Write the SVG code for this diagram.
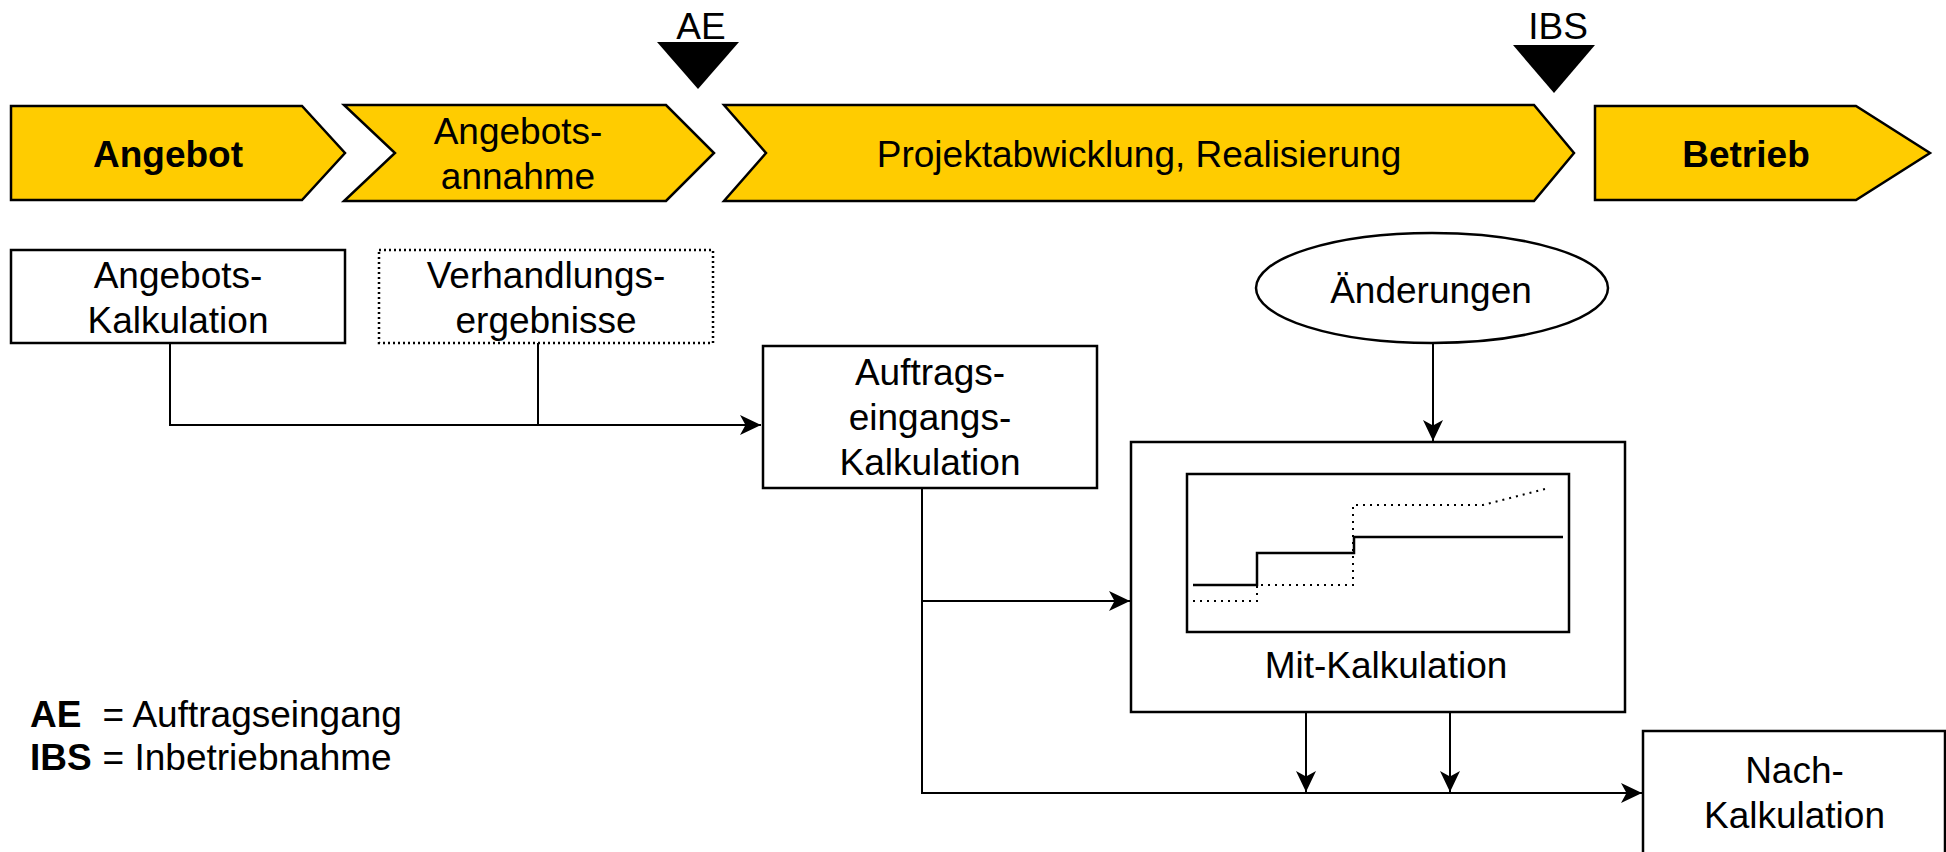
<svg xmlns="http://www.w3.org/2000/svg" width="1946" height="852" viewBox="0 0 1946 852">
  <style>
    text { font-family: "Liberation Sans", Arial, sans-serif; font-size: 37px; fill: #000; }
    .c { text-anchor: middle; }
    .b { font-weight: bold; }
    .phase { fill: #FFCC00; stroke: #000; stroke-width: 2.5; stroke-linejoin: miter; }
    .box { fill: #fff; stroke: #000; stroke-width: 2.5; }
    .dotted { fill: #fff; stroke: #000; stroke-width: 2.5; stroke-dasharray: 2 3; }
    .milestone { fill: #000; stroke: none; }
    .conn { fill: none; stroke: #000; stroke-width: 2; }
    .curve { fill: none; stroke: #000; stroke-width: 2.5; }
    .curve-dot { fill: none; stroke: #000; stroke-width: 2; stroke-dasharray: 2 5; }
  </style>
  <defs>
    <marker id="arrow" viewBox="-22 -11 23 22" refX="0" refY="0" markerWidth="23" markerHeight="22" markerUnits="userSpaceOnUse" orient="auto">
      <path d="M0,0 L-21,-10 L-15.5,0 L-21,10 Z" fill="#000"/>
    </marker>
  </defs>

  <rect width="1946" height="852" fill="#fff"/>

  <!-- phase chevrons -->
  <g id="phase-angebot">
    <polygon class="phase" points="11,106 302,106 345,153 302,200 11,200"/>
    <text class="c b" x="168" y="166.5">Angebot</text>
  </g>
  <g id="phase-annahme">
    <polygon class="phase" points="344,105 666,105 714,153 666,201 344,201 395,153"/>
    <text class="c" x="518" y="144">Angebots-</text>
    <text class="c" x="518" y="189">annahme</text>
  </g>
  <g id="phase-projekt">
    <polygon class="phase" points="724,105 1534,105 1574,153 1534,201 724,201 766,153"/>
    <text class="c" x="1139" y="167">Projektabwicklung, Realisierung</text>
  </g>
  <g id="phase-betrieb">
    <polygon class="phase" points="1595,106 1856,106 1930,153 1856,200 1595,200"/>
    <text class="c b" x="1746" y="166.5">Betrieb</text>
  </g>

  <!-- milestones -->
  <g id="milestone-ae">
    <polygon class="milestone" points="657,42 739,42 698,89"/>
    <text class="c" x="701" y="39">AE</text>
  </g>
  <g id="milestone-ibs">
    <polygon class="milestone" points="1513,45 1595,45 1554,93"/>
    <text class="c" x="1558" y="39">IBS</text>
  </g>

  <!-- calculation nodes -->
  <g id="angebots-kalkulation">
    <rect class="box" x="11" y="250" width="334" height="93"/>
    <text class="c" x="178" y="288">Angebots-</text>
    <text class="c" x="178" y="333">Kalkulation</text>
  </g>
  <g id="verhandlungsergebnisse">
    <rect class="dotted" x="379" y="250" width="334" height="93"/>
    <text class="c" x="546" y="287.5">Verhandlungs-</text>
    <text class="c" x="546" y="332.5">ergebnisse</text>
  </g>
  <g id="auftragseingangs-kalkulation">
    <rect class="box" x="763" y="346" width="334" height="142"/>
    <text class="c" x="930" y="385">Auftrags-</text>
    <text class="c" x="930" y="430">eingangs-</text>
    <text class="c" x="930" y="475">Kalkulation</text>
  </g>
  <g id="aenderungen">
    <ellipse class="box" cx="1432" cy="288" rx="176" ry="55"/>
    <text class="c" x="1431" y="302.5">Änderungen</text>
  </g>
  <g id="mit-kalkulation">
    <rect class="box" x="1131" y="442" width="494" height="270"/>
    <rect class="box" x="1187" y="474" width="382" height="158"/>
    <path class="curve-dot" d="M1193,601 H1257 V585 H1353 V505 H1483 L1545,489"/>
    <path class="curve" d="M1193,585 H1257 V553 H1354 V537 H1563"/>
    <text class="c" x="1386" y="678">Mit-Kalkulation</text>
  </g>
  <g id="nach-kalkulation">
    <rect class="box" x="1643" y="731" width="302" height="123"/>
    <text class="c" x="1794.5" y="783">Nach-</text>
    <text class="c" x="1794.5" y="828">Kalkulation</text>
  </g>

  <!-- connectors -->
  <g id="connectors">
    <path class="conn" d="M170,343 V425 H761" marker-end="url(#arrow)"/>
    <path class="conn" d="M538,343 V425"/>
    <path class="conn" d="M922,488 V793 H1642" marker-end="url(#arrow)"/>
    <path class="conn" d="M922,601 H1130" marker-end="url(#arrow)"/>
    <path class="conn" d="M1433,343 V441" marker-end="url(#arrow)"/>
    <path class="conn" d="M1306,712 V792" marker-end="url(#arrow)"/>
    <path class="conn" d="M1450,712 V792" marker-end="url(#arrow)"/>
  </g>

  <!-- legend -->
  <g id="legend">
    <text class="b" x="30" y="727">AE</text>
    <text x="102.6" y="727">= Auftragseingang</text>
    <text class="b" x="30" y="770">IBS</text>
    <text x="102.6" y="770">= Inbetriebnahme</text>
  </g>
</svg>
